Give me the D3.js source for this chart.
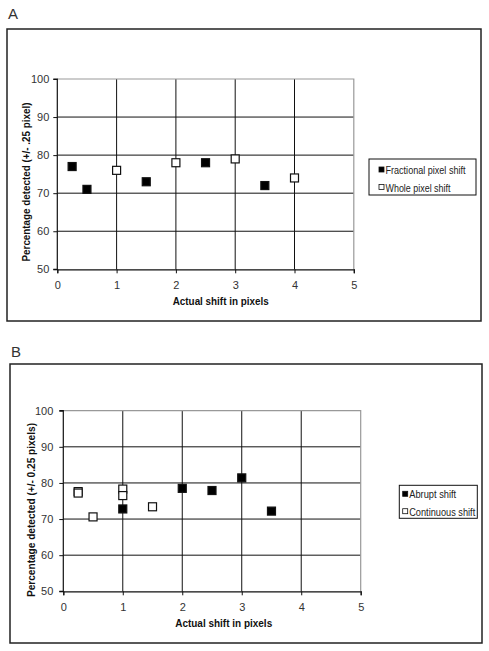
<!DOCTYPE html>
<html><head><meta charset="utf-8">
<script src="https://cdn.jsdelivr.net/npm/d3@7"></script>
<style>body{margin:0;background:#fff}svg{display:block}text{font-family:"Liberation Sans",Arial,sans-serif}</style>
</head><body><svg id="c" width="489" height="651"></svg>
<script>
// Panel A data
const aFracX = [0.25, 0.5, 1.5, 2.5, 3.5];
const aFracY = [77, 71, 73, 78, 72];
const aWholeX = [1, 2, 3, 4];
const aWholeY = [76, 78, 79, 74];
// Panel B data
const bAbruptX = [1, 2, 2.5, 3, 3.5];
const bAbruptY = [72.8, 78.5, 77.9, 81.4, 72.2];
const bContX = [0.25, 0.25, 0.5, 1, 1, 1.5];
const bContY = [77.6, 77.2, 70.6, 78.3, 76.5, 73.4];
const xTicks = [0, 1, 2, 3, 4, 5];
const yTicks = [50, 60, 70, 80, 90, 100];

const svg = d3.select("#c");

function panel(cfg) {
  const g = svg.append("g");
  g.append("rect").attr("x", cfg.frame[0]).attr("y", cfg.frame[1])
    .attr("width", cfg.frame[2]).attr("height", cfg.frame[3])
    .attr("fill", "none").attr("stroke", "#222").attr("stroke-width", 1.5);
  g.append("text").attr("x", cfg.letter[0]).attr("y", cfg.letter[1])
    .attr("font-size", 15).attr("fill", "#333").text(cfg.letterText);
  const x = d3.scaleLinear().domain([0, 5]).range([cfg.px0, cfg.px1]);
  const y = d3.scaleLinear().domain([50, 100]).range([cfg.py0, cfg.py1]);
  g.selectAll(".hg").data(yTicks.filter(v => v > 50 && v < 100)).enter().append("line")
    .attr("x1", x(0)).attr("x2", x(5)).attr("y1", d => y(d)).attr("y2", d => y(d))
    .attr("stroke", "#111").attr("stroke-width", 1);
  g.selectAll(".vg").data(xTicks.filter(v => v > 0 && v < 5)).enter().append("line")
    .attr("y1", y(50)).attr("y2", y(100)).attr("x1", d => x(d)).attr("x2", d => x(d))
    .attr("stroke", "#111").attr("stroke-width", 1);
  g.append("path").attr("d", `M${x(0)},${y(100)}H${x(5)}V${y(50)}`)
    .attr("fill", "none").attr("stroke", "#999").attr("stroke-width", 1.2);
  const xa = g.append("g").attr("transform", `translate(0,${y(50)})`)
    .call(d3.axisBottom(x).tickValues(xTicks).tickSize(4).tickPadding(8).tickFormat(d3.format("d")));
  const ya = g.append("g").attr("transform", `translate(${x(0)},0)`)
    .call(d3.axisLeft(y).tickValues(yTicks).tickSize(4).tickPadding(cfg.ypad).tickFormat(d3.format("d")));
  [xa, ya].forEach(a => {
    a.select(".domain").attr("stroke", "#111").attr("stroke-width", 1.2);
    a.selectAll(".tick line").attr("stroke", "#111");
    a.selectAll("text").attr("font-size", 11).attr("fill", "#333")
      .attr("font-family", '"Liberation Sans",Arial,sans-serif');
  });
  ya.select(".domain").attr("d", `M-4,${y(100)}H0V${y(50)}H-4`);
  g.append("text").attr("x", cfg.xt[0]).attr("y", cfg.xt[1]).attr("text-anchor", "middle")
    .attr("font-size", 11).attr("font-weight", "bold").attr("fill", "#111")
    .attr("textLength", cfg.xt[2]).attr("lengthAdjust", "spacingAndGlyphs")
    .text("Actual shift in pixels");
  g.append("text").attr("transform", `translate(${cfg.yt[0]},${cfg.yt[1]}) rotate(-90)`)
    .attr("text-anchor", "middle").attr("font-size", 11).attr("font-weight", "bold").attr("fill", "#111")
    .attr("textLength", cfg.yt[2]).attr("lengthAdjust", "spacingAndGlyphs")
    .text(cfg.ytitle);
  const s = 8;
  cfg.series.forEach(ser => {
    g.selectAll(null).data(ser.xs.map((v, i) => [v, ser.ys[i]])).enter().append("rect")
      .attr("x", d => x(d[0]) - s / 2).attr("y", d => y(d[1]) - s / 2)
      .attr("width", s).attr("height", s)
      .attr("fill", ser.fill).attr("stroke", "#111").attr("stroke-width", 1.2);
  });
  const L = cfg.legend;
  g.append("rect").attr("x", L[0]).attr("y", L[1]).attr("width", L[2]).attr("height", L[3])
    .attr("fill", "#fff").attr("stroke", "#111").attr("stroke-width", 1);
  cfg.series.forEach((ser, i) => {
    const cy = L[1] + L[4] + i * L[5];
    g.append("rect").attr("x", L[0] + L[6]).attr("y", cy - 3).attr("width", 5).attr("height", 5)
      .attr("fill", ser.fill).attr("stroke", "#111").attr("stroke-width", 0.8);
    g.append("text").attr("x", L[0] + L[6] + 6.5).attr("y", cy + 4).attr("font-size", 10.5).attr("fill", "#222")
      .attr("textLength", ser.tl).attr("lengthAdjust", "spacingAndGlyphs").text(ser.name);
  });
}

panel({
  frame: [7, 29, 474, 292], letter: [8, 19], letterText: "A",
  px0: 57.3, px1: 353.8, py0: 269.3, py1: 79, ypad: 4,
  xt: [220.7, 304.5, 96], yt: [30, 182, 159], ytitle: "Percentage detected (+/- .25 pixel)",
  series: [
    { name: "Fractional pixel shift", xs: aFracX, ys: aFracY, fill: "#000", tl: 80 },
    { name: "Whole pixel shift", xs: aWholeX, ys: aWholeY, fill: "#fff", tl: 65 }
  ],
  legend: [369, 159, 107, 36, 11, 17.5, 10]
});
panel({
  frame: [10, 364, 472, 279], letter: [11, 357], letterText: "B",
  px0: 63.3, px1: 360.7, py0: 591.3, py1: 410.7, ypad: 6,
  xt: [223.7, 626.5, 97], yt: [34.5, 510, 174], ytitle: "Percentage detected (+/- 0.25 pixels)",
  series: [
    { name: "Abrupt shift", xs: bAbruptX, ys: bAbruptY, fill: "#000", tl: 47 },
    { name: "Continuous shift", xs: bContX, ys: bContY, fill: "#fff", tl: 66 }
  ],
  legend: [399.3, 485.3, 78, 33, 9, 17.4, 3.4]
});
</script></body></html>
